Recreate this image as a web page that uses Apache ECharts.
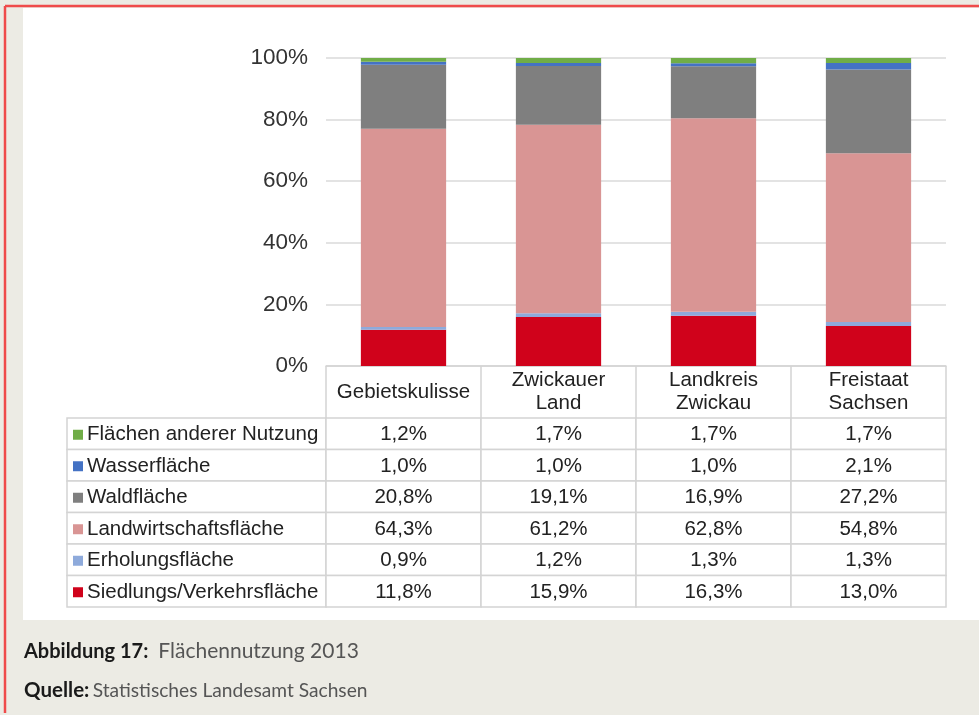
<!DOCTYPE html>
<html>
<head>
<meta charset="utf-8">
<title>Flächennutzung 2013</title>
<script src="https://cdn.jsdelivr.net/npm/echarts/dist/echarts.min.js"></script>
<style>
  html, body { margin: 0; padding: 0; background: #ecebe4; }
  #chart { width: 979px; height: 715px; }
</style>
</head>
<body>
<div id="chart"></div>
<script>
// Kategorien (Spalten der Tabelle)
const categories = ['Gebietskulisse', 'Zwickauer\nLand', 'Landkreis\nZwickau', 'Freistaat\nSachsen'];

// Werte in % je Nutzungsart
const siedlung = [11.8, 15.9, 16.3, 13.0];
const erholung = [0.9, 1.2, 1.3, 1.3];
const landwirtschaft = [64.3, 61.2, 62.8, 54.8];
const wald = [20.8, 19.1, 16.9, 27.2];
const wasser = [1.0, 1.0, 1.0, 2.1];
const andere = [1.2, 1.7, 1.7, 1.7];

// Achsenbeschriftung
const yTicks = [0, 20, 40, 60, 80, 100];

// Stapel von unten nach oben
const stack = [
  { name: 'Siedlungs/Verkehrsfläche', data: siedlung, color: '#d0021b' },
  { name: 'Erholungsfläche', data: erholung, color: '#8eaadb' },
  { name: 'Landwirtschaftsfläche', data: landwirtschaft, color: '#d99594' },
  { name: 'Waldfläche', data: wald, color: '#7f7f7f' },
  { name: 'Wasserfläche', data: wasser, color: '#4472c4' },
  { name: 'Flächen anderer Nutzung', data: andere, color: '#70ad47' }
];
// Tabelle: von oben nach unten
const tableRows = stack.slice().reverse();

const FONT = '"Liberation Sans", Arial, sans-serif';
const CAP_FONT = 'Lato, "Open Sans", sans-serif';
const TEXT_COLOR = '#222222';
const LINE_COLOR = '#d4d4d4';
const LABEL_W = 259; // Breite der Beschriftungsspalte
const FS = 20.5;

const fmt = (v) => v.toFixed(1).replace('.', ',') + '%';

// Zellen der Datentabelle
const cells = [];
tableRows.forEach((row, r) => {
  cells.push({ value: [0, r], kind: 'label' });
  categories.forEach((c, ci) => {
    cells.push({ value: [ci, r], kind: 'value' });
  });
});

const chart = echarts.init(document.getElementById('chart'));

const option = {
  backgroundColor: '#ecebe4',
  animation: false,
  textStyle: { fontFamily: FONT },
  grid: [
    { left: 326, right: 33, top: 58, height: 308 },
    { left: 326, right: 33, top: 418, height: 189 }
  ],
  xAxis: [
    {
      type: 'category',
      gridIndex: 0,
      data: categories,
      axisLine: { lineStyle: { color: LINE_COLOR, width: 1.5 } },
      axisTick: { show: true, length: 52, lineStyle: { color: LINE_COLOR, width: 1.5 } },
      axisLabel: {
        interval: 0,
        margin: 26,
        verticalAlign: 'middle',
        fontSize: FS,
        lineHeight: 23,
        color: TEXT_COLOR,
        fontFamily: FONT
      },
      splitLine: { show: false }
    },
    {
      type: 'category',
      gridIndex: 1,
      data: categories,
      show: false
    }
  ],
  yAxis: [
    {
      type: 'value',
      gridIndex: 0,
      min: yTicks[0],
      max: yTicks[yTicks.length - 1],
      interval: 20,
      axisLine: { show: false },
      axisTick: { show: false },
      axisLabel: {
        formatter: '{value}%',
        fontSize: 22.5,
        color: '#333333',
        margin: 18,
        fontFamily: FONT
      },
      splitLine: { lineStyle: { color: '#dadada', width: 1.5 } }
    },
    {
      type: 'category',
      gridIndex: 1,
      inverse: true,
      data: tableRows.map((r) => r.name),
      show: false
    }
  ],
  series: stack.map((s) => ({
    name: s.name,
    type: 'bar',
    stack: 'flaeche',
    xAxisIndex: 0,
    yAxisIndex: 0,
    barWidth: '55%',
    itemStyle: { color: s.color },
    data: s.data
  })).concat([
    {
      type: 'custom',
      xAxisIndex: 1,
      yAxisIndex: 1,
      data: cells.map((c) => c.value),
      renderItem: (params, api) => {
        const cell = cells[params.dataIndex];
        const row = tableRows[api.value(1)];
        const p = api.coord([api.value(0), api.value(1)]);
        const colW = api.size([1, 0])[0];
        const rowH = api.size([0, 1])[1];
        const top = p[1] - rowH / 2;
        if (cell.kind === 'label') {
          const x0 = params.coordSys.x - LABEL_W;
          return {
            type: 'group',
            children: [
              {
                type: 'rect',
                shape: { x: x0, y: top, width: LABEL_W, height: rowH },
                style: { fill: '#fff', stroke: LINE_COLOR, lineWidth: 1.5 }
              },
              {
                type: 'rect',
                shape: { x: x0 + 6, y: p[1] - 4, width: 10, height: 10 },
                style: { fill: row.color }
              },
              {
                type: 'text',
                style: {
                  text: row.name,
                  x: x0 + 20,
                  y: p[1] + 1,
                  align: 'left',
                  verticalAlign: 'middle',
                  fontSize: FS,
                  fontFamily: FONT,
                  fill: TEXT_COLOR
                }
              }
            ]
          };
        }
        return {
          type: 'group',
          children: [
            {
              type: 'rect',
              shape: { x: p[0] - colW / 2, y: top, width: colW, height: rowH },
              style: { fill: '#fff', stroke: LINE_COLOR, lineWidth: 1.5 }
            },
            {
              type: 'text',
              style: {
                text: fmt(row.data[api.value(0)]),
                x: p[0],
                y: p[1] + 1,
                align: 'center',
                verticalAlign: 'middle',
                fontSize: FS,
                fontFamily: FONT,
                fill: TEXT_COLOR
              }
            }
          ]
        };
      }
    }
  ]),
  graphic: [
    {
      type: 'rect',
      z: -100,
      shape: { x: 23, y: 8, width: 960, height: 612 },
      style: { fill: '#ffffff' }
    },
    {
      type: 'line',
      z: 100,
      shape: { x1: 5, y1: 6, x2: 979, y2: 6 },
      style: { stroke: '#ef4b4b', lineWidth: 2.5 }
    },
    {
      type: 'line',
      z: 100,
      shape: { x1: 5, y1: 6, x2: 5, y2: 713 },
      style: { stroke: '#ef4b4b', lineWidth: 2.5 }
    },
    {
      type: 'text',
      left: 24,
      top: 641,
      style: {
        text: '{a|Abbildung 17:}   {b|Flächennutzung 2013}',
        rich: {
          a: { fontSize: 20, fontWeight: 'bold', fontFamily: CAP_FONT, fill: '#1a1a1a' },
          b: { fontSize: 21, fontFamily: CAP_FONT, fill: '#555555' }
        }
      }
    },
    {
      type: 'text',
      left: 24,
      top: 680,
      style: {
        text: '{a|Quelle:} {b|Statistisches Landesamt Sachsen}',
        rich: {
          a: { fontSize: 20.5, fontWeight: 'bold', fontFamily: CAP_FONT, fill: '#1a1a1a' },
          b: { fontSize: 19.2, fontFamily: CAP_FONT, fill: '#555555' }
        }
      }
    }
  ]
};

chart.setOption(option);
</script>
</body>
</html>
